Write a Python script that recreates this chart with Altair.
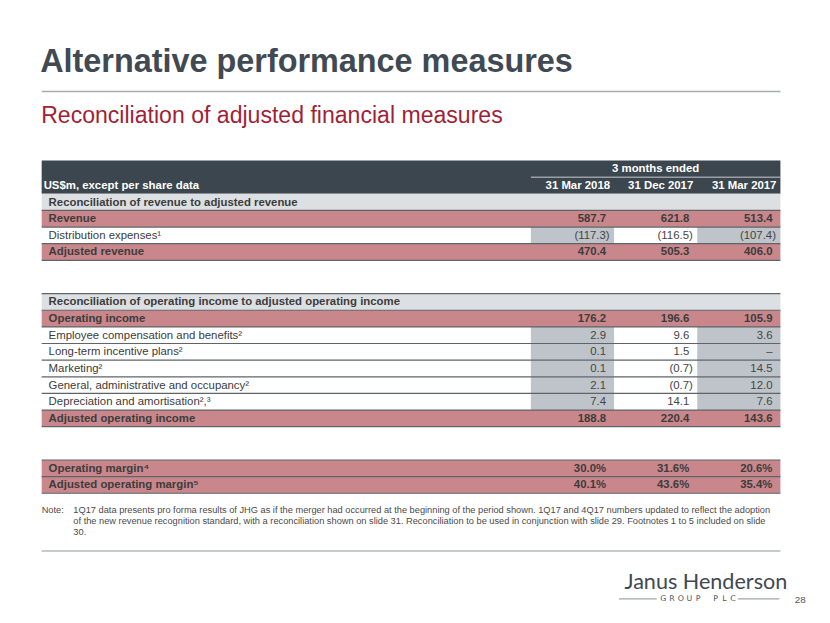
import altair as alt
import pandas as pd

# ---------------- data ----------------
title = "Alternative performance measures"
subtitle = "Reconciliation of adjusted financial measures"
header_label = "US$m, except per share data"
header_group = "3 months ended"
periods = ["31 Mar 2018", "31 Dec 2017", "31 Mar 2017"]

row_labels = [
    "Reconciliation of revenue to adjusted revenue",
    "Revenue",
    "Distribution expenses¹",
    "Adjusted revenue",
    "", "",
    "Reconciliation of operating income to adjusted operating income",
    "Operating income",
    "Employee compensation and benefits²",
    "Long-term incentive plans²",
    "Marketing²",
    "General, administrative and occupancy²",
    "Depreciation and amortisation²,³",
    "Adjusted operating income",
    "", "",
    "Operating margin⁴",
    "Adjusted operating margin⁵",
]
row_kinds = ["section", "total", "normal", "total", "blank", "blank",
             "section", "total", "normal", "normal", "normal", "normal", "normal", "total",
             "blank", "blank", "margin", "margin"]
mar_2018 = [None, 587.7, -117.3, 470.4, None, None, None, 176.2, 2.9, 0.1, 0.1, 2.1, 7.4, 188.8, None, None, 30.0, 40.1]
dec_2017 = [None, 621.8, -116.5, 505.3, None, None, None, 196.6, 9.6, 1.5, -0.7, -0.7, 14.1, 220.4, None, None, 31.6, 43.6]
mar_2017 = [None, 513.4, -107.4, 406.0, None, None, None, 105.9, 3.6, None, 14.5, 12.0, 7.6, 143.6, None, None, 20.6, 35.4]

note_label = "Note:"
note_lines = [
    "1Q17 data presents pro forma results of JHG as if the merger had occurred at the beginning of the period shown. 1Q17 and 4Q17 numbers updated to reflect the adoption",
    "of the new revenue recognition standard, with a reconciliation shown on slide 31. Reconciliation to be used in conjunction with slide 29. Footnotes 1 to 5 included on slide",
    "30.",
]
logo_name = "Janus Henderson"
logo_sub = "GROUP PLC"
page_number = "28"

# ---------------- styling ----------------
FONT = "Liberation Sans"
RED_TXT = "#a21f35"
RED_ROW = "#c9878c"
SECTION_ROW = "#dde0e3"
SHADE = "#bec4c9"
LINE = "#5e646a"
TXT = "#3c3c3c"
FS = 11.5
W, H = 822, 615
HEADER_ROWS = 2
N_ROWS = HEADER_ROWS + len(row_labels)

yscale = alt.Scale(domain=[0, N_ROWS], range=[151, 487], zero=False, nice=False)
xscale = alt.Scale(domain=periods, range=[528, 780], paddingInner=0, paddingOuter=0)


def fmt(v, kind):
    if v is None:
        return "–"
    if kind == "margin":
        return f"{v:.1f}%"
    if v < 0:
        return f"({abs(v):.1f})"
    return f"{v:.1f}"


rows = pd.DataFrame({"label": row_labels, "kind": row_kinds})
rows["row"] = [i + HEADER_ROWS for i in range(len(rows))]
rows["row_end"] = rows["row"] + 1
rows["mid"] = rows["row"] + 0.5
rows = rows[rows["kind"] != "blank"]

cells = []
for series, period in zip([mar_2018, dec_2017, mar_2017], periods):
    for i, (v, k) in enumerate(zip(series, row_kinds)):
        if k in ("blank", "section"):
            continue
        cells.append({"period": period, "row": i + HEADER_ROWS, "row_end": i + HEADER_ROWS + 1,
                      "mid": i + HEADER_ROWS + 0.5, "kind": k, "text": fmt(v, k),
                      "neg": (v is not None and v < 0)})
cells = pd.DataFrame(cells)

# separator lines
bounds = []
for i, k in enumerate(row_kinds):
    if k == "blank":
        continue
    r = i + HEADER_ROWS
    bounds.append(r + 1)
    if i > 0 and row_kinds[i - 1] == "blank":
        bounds.append(r)
bounds = pd.DataFrame({"row": bounds})

Y = lambda f: alt.Y(f"{f}:Q", scale=yscale, axis=None)
XP = alt.X("period:N", scale=xscale, axis=None)
XPend = alt.X("period:N", scale=xscale, axis=None, bandPosition=1)

# ---------------- layers ----------------
header_bg = alt.Chart(pd.DataFrame({"row": [0], "row_end": [HEADER_ROWS]})).mark_rect(color="#3c464e").encode(
    y=Y("row"), y2="row_end", x=alt.value(34), x2=alt.value(780))

row_bg = alt.Chart(rows[rows["kind"] != "normal"]).mark_rect().encode(
    y=Y("row"), y2="row_end", x=alt.value(34), x2=alt.value(780),
    color=alt.Color("kind:N", legend=None,
                    scale=alt.Scale(domain=["section", "total", "margin"],
                                    range=[SECTION_ROW, RED_ROW, RED_ROW])))

shade = alt.Chart(cells[(cells["kind"] == "normal") & (cells["period"] != periods[1])]).mark_rect(color=SHADE).encode(
    x=XP, y=Y("row"), y2="row_end")

sep = alt.Chart(bounds).mark_rule(color=LINE, strokeWidth=1.2).encode(
    y=Y("row"), x=alt.value(34), x2=alt.value(780))

group_line = alt.Chart(pd.DataFrame({"row": [1]})).mark_rule(color="#c9cdd1", strokeWidth=1).encode(
    y=Y("row"), x=alt.value(528), x2=alt.value(780))

group_txt = alt.Chart(pd.DataFrame({"t": [header_group], "mid": [0.5]})).mark_text(
    font=FONT, fontSize=FS, fontWeight="bold", color="white", align="center", baseline="middle", dy=0.5).encode(
    text="t:N", y=Y("mid"), x=alt.value(654))

hdr_label = alt.Chart(pd.DataFrame({"t": [header_label], "mid": [1.5]})).mark_text(
    font=FONT, fontSize=FS, fontWeight="bold", color="white", align="left", baseline="middle", dy=0.5).encode(
    text="t:N", y=Y("mid"), x=alt.value(36))

dates = alt.Chart(pd.DataFrame({"period": periods, "mid": [1.5] * 3})).mark_text(
    font=FONT, fontSize=FS, fontWeight="bold", color="white", align="right", baseline="middle", dx=-4, dy=0.5).encode(
    text="period:N", x=XPend, y=Y("mid"))

labels_bold = alt.Chart(rows[rows["kind"] != "normal"]).mark_text(
    font=FONT, fontSize=FS, fontWeight="bold", color=TXT, align="left", baseline="middle", dy=0.5).encode(
    text="label:N", y=Y("mid"), x=alt.value(41))

labels_reg = alt.Chart(rows[rows["kind"] == "normal"]).mark_text(
    font=FONT, fontSize=FS, color=TXT, align="left", baseline="middle", dy=0.5).encode(
    text="label:N", y=Y("mid"), x=alt.value(41))

vals_bold = alt.Chart(cells[cells["kind"] != "normal"]).mark_text(
    font=FONT, fontSize=FS, fontWeight="bold", color=TXT, align="right", baseline="middle", dx=-8, dy=0.5).encode(
    text="text:N", x=XPend, y=Y("mid"))

vals_reg = alt.Chart(cells[(cells["kind"] == "normal") & (~cells["neg"])]).mark_text(
    font=FONT, fontSize=FS, color="#454545", align="right", baseline="middle", dx=-8, dy=0.5).encode(
    text="text:N", x=XPend, y=Y("mid"))

vals_neg = alt.Chart(cells[(cells["kind"] == "normal") & (cells["neg"])]).mark_text(
    font=FONT, fontSize=FS, color="#454545", align="right", baseline="middle", dx=-4.5, dy=0.5).encode(
    text="text:N", x=XPend, y=Y("mid"))

one = lambda t: pd.DataFrame({"t": [t]})

title_txt = alt.Chart(one(title)).mark_text(
    font=FONT, fontSize=32.7, fontWeight="bold", color="#414a53", align="left", baseline="alphabetic").encode(
    text="t:N", x=alt.value(32.5), y=alt.value(61.5))

title_line = alt.Chart(one("l")).mark_rule(color="#a9adb1", strokeWidth=1.6).encode(
    y=alt.value(81.3), x=alt.value(34), x2=alt.value(780))

subtitle_txt = alt.Chart(one(subtitle)).mark_text(
    font=FONT, fontSize=23.3, color=RED_TXT, align="left", baseline="alphabetic").encode(
    text="t:N", x=alt.value(33.5), y=alt.value(112.7))

note_lbl = alt.Chart(one(note_label)).mark_text(
    font=FONT, fontSize=9.35, color="#4a4a4a", align="left", baseline="middle").encode(
    text="t:N", x=alt.value(34), y=alt.value(504.3))

note_layers = []
for k, line in enumerate(note_lines):
    note_layers.append(alt.Chart(one(line)).mark_text(
        font=FONT, fontSize=9.35, color="#4a4a4a", align="left", baseline="middle").encode(
        text="t:N", x=alt.value(66), y=alt.value(504.3 + 11 * k)))

bottom_line = alt.Chart(one("l")).mark_rule(color="#8f9499", strokeWidth=1).encode(
    y=alt.value(545.3), x=alt.value(34), x2=alt.value(780))

logo_txt = alt.Chart(one(logo_name)).mark_text(
    font="Lato", fontSize=21.8, color="#3f4851", align="left", baseline="alphabetic").encode(
    text="t:N", x=alt.value(622.5), y=alt.value(584))

# letter-spaced "GROUP PLC": each glyph placed individually along the line
sub_chars = list(logo_sub)
sub_layers = []
step = 8.8
start = 697 - step * (len(sub_chars) - 1) / 2
for j, ch in enumerate(sub_chars):
    if ch == " ":
        continue
    sub_layers.append(alt.Chart(one(ch)).mark_text(
        font="DejaVu Sans", fontSize=8, color="#4d555c", align="center", baseline="middle").encode(
        text="t:N", x=alt.value(start + step * j), y=alt.value(593.7)))

logo_l1 = alt.Chart(one("l")).mark_rule(color="#6b7278", strokeWidth=0.8).encode(
    y=alt.value(593.7), x=alt.value(617), x2=alt.value(655))
logo_l2 = alt.Chart(one("l")).mark_rule(color="#6b7278", strokeWidth=0.8).encode(
    y=alt.value(593.7), x=alt.value(737), x2=alt.value(779))

page_txt = alt.Chart(one(page_number)).mark_text(
    font=FONT, fontSize=10, color="#555555", align="left", baseline="middle").encode(
    text="t:N", x=alt.value(794.5), y=alt.value(595))

chart = alt.layer(
    header_bg, row_bg, shade, sep, group_line,
    group_txt, hdr_label, dates, labels_bold, labels_reg, vals_bold, vals_reg, vals_neg,
    title_txt, title_line, subtitle_txt, note_lbl, *note_layers, bottom_line,
    logo_txt, *sub_layers, logo_l1, logo_l2, page_txt,
).properties(
    width=W, height=H, padding=0, autosize="none", background="white"
).configure_view(stroke=None)

chart.save("out.html", embed_options={"renderer": "svg", "actions": False})
